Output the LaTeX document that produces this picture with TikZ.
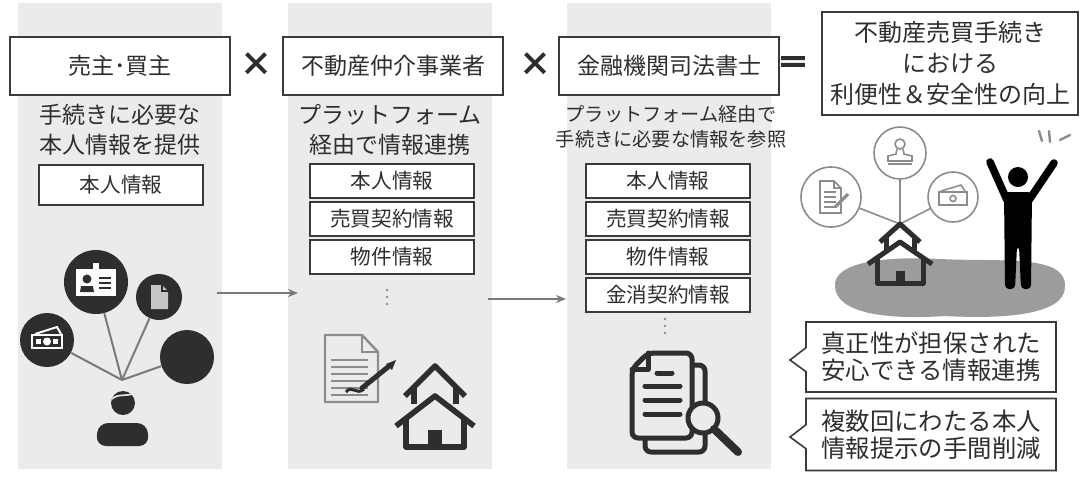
\documentclass[tikz,border=0pt]{standalone}
\usepackage{fontspec}
\setmainfont{Noto Sans CJK JP}
\newfontfamily\heavyfont[FakeBold=6]{Noto Sans CJK JP}
\usetikzlibrary{arrows.meta,shapes.callouts}

\definecolor{panelgray}{HTML}{EBEBEB}
\definecolor{boxline}{HTML}{3A3A3A}
\definecolor{ink}{HTML}{2E2E2E}
\definecolor{spoke}{HTML}{7A7A7A}
\definecolor{blobgray}{HTML}{9C9C9C}
\definecolor{softline}{HTML}{8C8C8C}

\tikzset{
  panel/.style={fill=panelgray, minimum width=102pt, minimum height=233pt, inner sep=0pt},
  header/.style={draw=boxline, line width=1pt, fill=white, minimum width=110pt, minimum height=29pt,
    inner sep=0pt, text=ink, font=\fontsize{11.5}{14}\selectfont},
  lead/.style={text=ink, align=center, inner sep=0pt, font=\fontsize{11.5}{15}\selectfont},
  infobox/.style={draw=boxline, line width=0.8pt, fill=white, minimum width=82pt, minimum height=17pt,
    inner sep=0pt, text=ink, font=\fontsize{10.3}{12}\selectfont},
  bubble/.style={rectangle callout, draw=boxline, line width=0.8pt, fill=white, minimum width=125pt,
    minimum height=35pt, callout pointer width=12pt, align=center, inner sep=0pt, text=ink,
    font=\fontsize{12.2}{13.5}\selectfont},
  darkdot/.style={circle, fill=ink, inner sep=0pt},
  ringdot/.style={circle, draw=softline, line width=0.8pt, fill=white, inner sep=0pt},
  spokeline/.style={draw=spoke, line width=1pt},
  flow/.style={-{Stealth[length=5pt,width=4pt]}, draw=spoke, line width=1pt},
  op/.style={text=ink, inner sep=0pt, font=\heavyfont\fontsize{15}{15}\selectfont}
}

\begin{document}
\begin{tikzpicture}[x=0.5pt, y=-0.5pt]
  \fill[white] (0,0) rectangle (1080,478);
  \useasboundingbox (0,0) rectangle (1080,478);

  % the three gray columns
  \node[panel] (p1) at (120,236) {};
  \node[panel] (p2) at (390,236) {};
  \node[panel] (p3) at (669,236) {};

  % headers and operators
  \node[header] (seller) at (120,66) {売主･買主};
  \node[op] (times1) at (256,64) {×};
  \node[header] (agent) at (393,66) {不動産仲介事業者};
  \node[op] (times2) at (535,64) {×};
  \node[header] (bank) at (669,66) {金融機関司法書士};
  \node[op, font=\heavyfont\fontsize{15}{15}\selectfont] (equals) at (793,65) {＝};
  \node[header, minimum width=128pt, minimum height=51.5pt, align=center,
    font=\fontsize{12}{15.5}\selectfont] (result) at (950,63.5)
    {不動産売買手続き\\における\\利便性＆安全性の向上};

  % column texts
  \node[lead] (lead1) at (120,130) {手続きに必要な\\本人情報を提供};
  \node[lead] (lead2) at (390,130) {プラットフォーム\\経由で情報連携};
  \node[lead, font=\fontsize{9.6}{12.5}\selectfont] (lead3) at (671,127)
    {プラットフォーム経由で\\手続きに必要な情報を参照};

  % data boxes
  \node[infobox, minimum height=20pt] (id1) at (121,185) {本人情報};
  \node[infobox] (id2) at (392,181) {本人情報};
  \node[infobox] (sale2) at (392,219) {売買契約情報};
  \node[infobox] (prop2) at (392,257) {物件情報};
  \node[infobox] (id3) at (668,181) {本人情報};
  \node[infobox] (sale3) at (668,219) {売買契約情報};
  \node[infobox] (prop3) at (668,257) {物件情報};
  \node[infobox] (loan3) at (668,295) {金消契約情報};
  \foreach \y in {290,297,304} \fill[softline] (387,\y) circle (1.3);
  \foreach \y in {319,326,333} \fill[softline] (665,\y) circle (1.3);

  % arrows between columns
  \coordinate (go1) at (217,293);
  \coordinate (in1) at (298,293);
  \coordinate (go2) at (488,299);
  \coordinate (in2) at (566,299);
  \draw[flow] (go1) -- (in1);
  \draw[flow] (go2) -- (in2);

  % column 1: owner and his documents
  \coordinate (hub) at (122,380);
  \node[darkdot, minimum size=27pt] (cash) at (47,340) {};
  \node[darkdot, minimum size=32pt] (card) at (96,282) {};
  \node[darkdot, minimum size=23pt] (paper) at (159,297) {};
  \node[darkdot, minimum size=27pt] (seal) at (187,357) {};
  \foreach \n in {cash,card,paper,seal}
    \draw[spokeline] (hub) -- (\n);
  \fill[ink] (123,403) circle (12);
  \draw[panelgray, line width=0.8pt] (112,399) .. controls (118,393) and (128,397) .. (134,393);
  \fill[ink, rounded corners=5pt] (96,446) -- (98,423) -- (147,423) -- (149,446) -- cycle;
  \begin{scope}[shift={(card)}]
    \fill[white] (-20,-13) rectangle (20,14);
    \fill[white] (-3,-19) rectangle (3,-12);
    \fill[ink] (-9,-3) circle (4.5);
    \fill[ink] (-16,10) -- (-15,4) -- (-3,4) -- (-2,10) -- cycle;
    \foreach \y in {-4,1,6} \draw[ink, line width=1.2pt] (3,\y) -- (15,\y);
  \end{scope}
  \begin{scope}[shift={(cash)}]
    \draw[white, line width=1pt] (-15,-5) rectangle (15,8);
    \fill[white] (0,1.5) circle (4);
    \fill[white] (-11,-1) rectangle (-6,4);
    \fill[white] (6,-1) rectangle (11,4);
    \draw[white, line width=1pt] (-12,-6) -- (10,-13) -- (14,-6);
  \end{scope}
  \begin{scope}[shift={(paper)}]
    \fill[gray!45] (-8,-12) -- (3,-12) -- (9,-6) -- (9,12) -- (-8,12) -- cycle;
    \draw[ink, line width=0.6pt] (3,-12) -- (3,-6) -- (9,-6);
  \end{scope}

  % column 2: signed contract and house
  \draw[softline, line width=1.2pt, line join=round]
    (325,335) -- (362,335) -- (378,352) -- (378,402) -- (325,402) -- cycle;
  \draw[softline, line width=1.2pt] (362,335) -- (362,352) -- (378,352);
  \foreach \y in {360,367,374,381,388,395} \draw[softline, line width=1pt] (331,\y) -- (368,\y);
  \draw[ink, line width=2.5pt, line cap=round] (362,388) -- (388,367);
  \fill[ink] (386,364) -- (396,360) -- (392,370) -- cycle;
  \draw[ink, line width=1.5pt] (346,392) .. controls (352,384) and (356,396) .. (364,389);
  \begin{scope}[ink, line width=2.8pt, line join=round]
    \draw (405,396) -- (435,366) -- (465,396);
    \draw (414,388) -- (414,404);
    \draw (456,388) -- (456,404);
    \draw (396,426) -- (435,396) -- (474,426);
    \draw (406,418) -- (406,447) -- (464,447) -- (464,418);
    \fill (428,430) rectangle (442,447);
  \end{scope}

  % column 3: documents under the magnifier
  \begin{scope}[ink, line width=2.5pt, line join=round, line cap=round]
    \draw[rounded corners=3pt] (692,365) -- (705,365) -- (705,452) -- (645,452) -- (645,438);
    \filldraw[fill=panelgray, rounded corners=3pt]
      (648,353) -- (692,353) -- (692,438) -- (632,438) -- (632,369) -- cycle;
    \draw (648,353) -- (648,369) -- (632,369);
    \draw (657,373) -- (672,373);
    \foreach \y in {386,400,414} \draw (645,\y) -- (680,\y);
    \filldraw[fill=panelgray] (703,418) circle (15);
    \draw[line width=4pt] (714,429) -- (738,452);
  \end{scope}

  % outcome: happy owner with house and papers
  \fill[blobgray] (835,287) .. controls (832,262) and (885,256) .. (940,259)
    .. controls (1000,262) and (1066,254) .. (1065,286)
    .. controls (1066,316) and (1000,319) .. (945,316)
    .. controls (885,320) and (837,313) .. (835,287);
  \coordinate (roof) at (900,224);
  \node[ringdot, minimum size=30pt] (deed) at (831,197) {};
  \node[ringdot, minimum size=26pt] (stamp) at (900,153) {};
  \node[ringdot, minimum size=25pt] (bill) at (953,197) {};
  \foreach \n in {deed,stamp,bill}
    \draw[spokeline, draw=softline, line width=0.8pt] (roof) -- (\n);
  \begin{scope}[shift={(deed)}, softline, line width=0.8pt]
    \draw (-11,-16) -- (3,-16) -- (10,-9) -- (10,16) -- (-11,16) -- cycle;
    \draw (3,-16) -- (3,-9) -- (10,-9);
    \foreach \y in {-5,0,5,10} \draw (-7,\y) -- (5,\y);
    \draw[line width=1.6pt] (4,10) -- (17,-3);
  \end{scope}
  \begin{scope}[shift={(stamp)}, softline, line width=0.8pt]
    \draw (0,-9) circle (5);
    \draw (-3,-4) -- (-4,1) -- (-12,3) -- (-12,8) -- (12,8) -- (12,3) -- (4,1) -- (3,-4);
    \draw (-12,11) -- (12,11);
  \end{scope}
  \begin{scope}[shift={(bill)}, softline, line width=0.8pt]
    \draw (-14,-5) rectangle (14,8);
    \draw (0,1.5) circle (3);
    \draw (-12,-6) -- (8,-12) -- (12,-6);
  \end{scope}
  \begin{scope}[ink, line width=2.5pt, line join=round]
    \draw (880,242) -- (900,224) -- (920,242);
    \draw (886,237) -- (886,250);
    \draw (914,237) -- (914,250);
    \draw (868,264) -- (900,242) -- (932,264);
    \draw (877,257) -- (877,283) -- (923,283) -- (923,257);
    \fill (896,271) rectangle (905,283);
  \end{scope}
  \fill[black] (1018,177) circle (10);
  \draw[black, line width=3.8pt, line cap=round] (1007,200) -- (990,162);
  \draw[black, line width=3.8pt, line cap=round] (1029,200) -- (1054,163);
  \fill[black, rounded corners=2pt] (1004,192) -- (1032,192) -- (1031,289) -- (1021,289)
    -- (1019,246) -- (1017,246) -- (1015,289) -- (1005,289) -- cycle;
  \begin{scope}[softline, line width=1.2pt, line cap=round]
    \draw (1039,131) -- (1042,141);
    \draw (1049,131) -- (1050,142);
    \draw (1060,140) -- (1070,135);
  \end{scope}

  % callouts
  \node[bubble, callout absolute pointer={(790,360)}] (trust) at (931,357)
    {真正性が担保された\\安心できる情報連携};
  \node[bubble, minimum height=36pt, callout absolute pointer={(790,437)}] (saving) at (931,434.5)
    {複数回にわたる本人\\情報提示の手間削減};
\end{tikzpicture}
\end{document}
